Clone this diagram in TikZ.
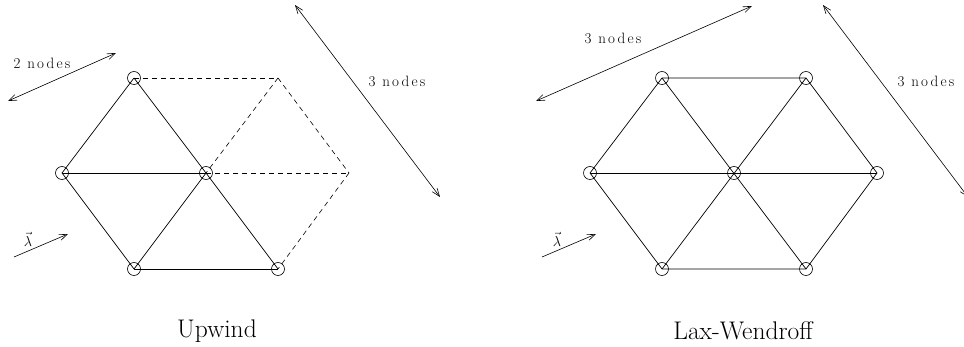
\documentclass[tikz,border=0pt]{standalone}
\usepackage{fontspec}
\usepackage{amsmath}
\usetikzlibrary{arrows.meta}
\newfontfamily\spacedfont{Latin Modern Roman}[LetterSpace=15]

\begin{document}
\begin{tikzpicture}[
  x=1pt, y=-1pt,
  vtx/.style={circle, draw, line width=0.6pt, minimum size=13pt, inner sep=0pt},
  edge/.style={line width=0.7pt},
  ghost/.style={line width=0.6pt, dash pattern=on 5pt off 4pt},
  span/.style={{Straight Barb[length=8pt,width=6pt]}-{Straight Barb[length=8pt,width=6pt]}, line width=0.6pt},
  flow/.style={-{Straight Barb[length=8pt,width=6pt]}, line width=0.6pt},
  count/.style={font=\fontsize{15}{17}\spacedfont},
  title/.style={font=\fontsize{25.5}{30}\selectfont}
]
\useasboundingbox (0,0) rectangle (964,347);

% Upwind stencil
\node[vtx] (uTL) at (134,78) {};
\coordinate (uTR) at (278,78);
\node[vtx] (uL) at (62,173) {};
\node[vtx] (uC) at (206,173) {};
\coordinate (uR) at (349,173);
\node[vtx] (uBL) at (134,269) {};
\node[vtx] (uBR) at (278,269) {};

\draw[edge] (uTL.center) -- (uL.center);
\draw[edge] (uTL.center) -- (uC.center);
\draw[edge] (uL.center) -- (uC.center);
\draw[edge] (uL.center) -- (uBL.center);
\draw[edge] (uBL.center) -- (uC.center);
\draw[edge] (uC.center) -- (uBR.center);
\draw[edge] (uBL.center) -- (uBR.center);
\draw[ghost] (uTL.center) -- (uTR);
\draw[ghost] (uTR) -- (uC.center);
\draw[ghost] (uTR) -- (uR);
\draw[ghost] (uC.center) -- (uR);
\draw[ghost] (uR) -- (uBR.center);

\coordinate (uAa) at (8,101);
\coordinate (uAb) at (116,53);
\draw[span] (uAa) -- (uAb);
\node[count] (uAl) at (42,63) {2 nodes};
\coordinate (uBa) at (295,5);
\coordinate (uBb) at (440,197);
\draw[span] (uBa) -- (uBb);
\node[count] (uBl) at (397,81) {3 nodes};
\coordinate (uVa) at (14,257);
\coordinate (uVb) at (68,234);
\draw[flow] (uVa) -- (uVb);
\node[font=\fontsize{15}{17}\selectfont] (uVl) at (28,239) {$\vec{\lambda}$};
\node[title] (uT) at (217,331) {Upwind};

% Lax-Wendroff stencil
\node[vtx] (wTL) at (662,78) {};
\node[vtx] (wTR) at (806,78) {};
\node[vtx] (wL) at (590,173) {};
\node[vtx] (wC) at (734,173) {};
\node[vtx] (wR) at (877,173) {};
\node[vtx] (wBL) at (662,269) {};
\node[vtx] (wBR) at (806,269) {};

\draw[edge] (wTL.center) -- (wTR.center) -- (wR.center) -- (wBR.center)
  -- (wBL.center) -- (wL.center) -- cycle;
\draw[edge] (wTL.center) -- (wBR.center);
\draw[edge] (wTR.center) -- (wBL.center);
\draw[edge] (wL.center) -- (wR.center);

\coordinate (wAa) at (536,101);
\coordinate (wAb) at (752,6);
\draw[span] (wAa) -- (wAb);
\node[count] (wAl) at (613,38) {3 nodes};
\coordinate (wBa) at (823,5);
\coordinate (wBb) at (968,197);
\draw[span] (wBa) -- (wBb);
\node[count] (wBl) at (926,81) {3 nodes};
\coordinate (wVa) at (542,257);
\coordinate (wVb) at (596,234);
\draw[flow] (wVa) -- (wVb);
\node[font=\fontsize{15}{17}\selectfont] (wVl) at (557,239) {$\vec{\lambda}$};
\node[title] (wT) at (743,331) {Lax-Wendroff};
\end{tikzpicture}
\end{document}
